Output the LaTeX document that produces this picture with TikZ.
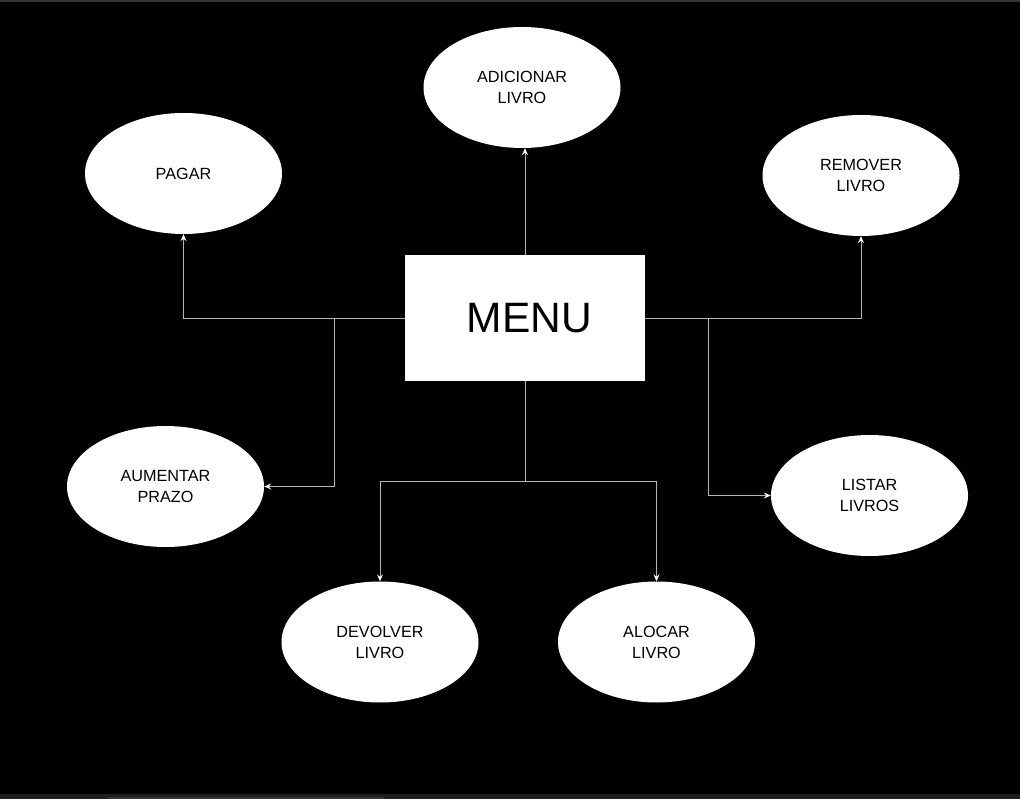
\documentclass[tikz,border=0pt]{standalone}
\usepackage{fontspec}
\setmainfont{Liberation Sans}
\usetikzlibrary{arrows.meta,shapes.geometric}
\definecolor{linegray}{HTML}{B4B4B4}
\definecolor{topbar}{HTML}{333333}
\definecolor{botbar}{HTML}{1E1E1E}
\definecolor{scroll}{HTML}{333333}
\tikzset{
  oval/.style={ellipse, fill=white, draw=none, minimum width=197pt, minimum height=121pt, inner sep=0pt,
    text=black, font=\fontsize{16.2}{21}\selectfont, align=center},
  menubox/.style={rectangle, fill=white, draw=none, minimum width=240pt, minimum height=126pt, inner sep=0pt},
  conn/.style={draw=linegray, line width=0.9pt},
  arr/.style={conn, -{Stealth[length=7pt, width=6pt, inset=2.5pt, fill=white, color=white]}}
}
\begin{document}
\begin{tikzpicture}[x=1pt, y=-1pt]
\fill[black] (0,0) rectangle (1020,799);
\useasboundingbox (0,0) rectangle (1020,799);
\fill[topbar] (0,0) rectangle (1020,2);
\fill[botbar] (0,794) rectangle (1020,799);
\fill[scroll] (108,797) rectangle (384,799);

\node[menubox] (menu) at (525,318) {};
\node[text=black, font=\fontsize{42.5}{42}\selectfont, anchor=center] (menutext) at (529.5,318) {MENU};

\node[oval] (add) at (522,87.5) {ADICIONAR\\LIVRO};
\node[oval] (pagar) at (183.5,173.5) {PAGAR};
\node[oval] (remover) at (861,175.5) {REMOVER\\LIVRO};
\node[oval] (aumentar) at (165.5,486.5) {AUMENTAR\\PRAZO};
\node[oval] (listar) at (869.5,495.5) {LISTAR\\LIVROS};
\node[oval] (devolver) at (380,642) {DEVOLVER\\LIVRO};
\node[oval] (alocar) at (656.5,642) {ALOCAR\\LIVRO};

\coordinate (lj) at (334,318);
\coordinate (rj) at (708,318);
\coordinate (bj) at (525,481);

\draw[arr] (menu.north) -- (menu.north |- add.south);
\draw[arr] (menu.west) -| (pagar.south);
\draw[arr] (lj) |- (aumentar.east);
\draw[arr] (menu.east) -| (remover.south);
\draw[arr] (rj) |- (listar.west);
\draw[conn] (menu.south) -- (bj);
\draw[arr] (bj) -| (devolver.north);
\draw[arr] (bj) -| (alocar.north);
\end{tikzpicture}
\end{document}
